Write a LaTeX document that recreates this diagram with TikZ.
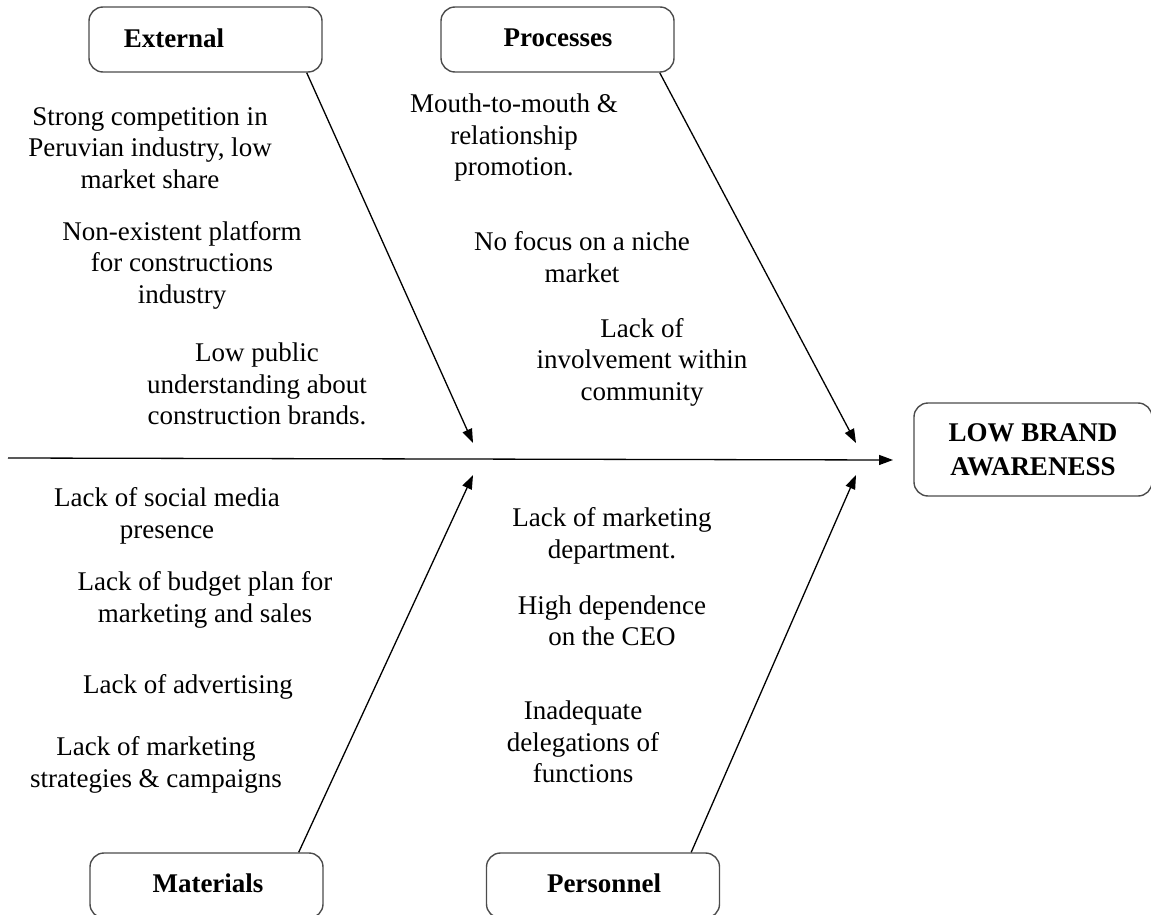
\documentclass[tikz,border=0pt]{standalone}
\usepackage{fontspec}
\setmainfont{Liberation Serif}
\usetikzlibrary{arrows.meta}
\begin{document}
\begin{tikzpicture}[x=1pt,y=-1pt,
  every node/.style={font=\fontsize{27}{31.5}\selectfont},
  cause/.style={align=center, inner sep=0pt},
  catbox/.style={draw=black!70, line width=1.4pt, rounded corners=14pt, minimum width=233pt, minimum height=65pt, inner sep=0pt},
  cattext/.style={font=\fontsize{27}{31.5}\selectfont\bfseries, inner sep=0pt},
  effbox/.style={draw=black!70, line width=1.4pt, rounded corners=14pt, minimum width=238pt, minimum height=93pt, align=center, inner sep=0pt, font=\fontsize{27}{34}\selectfont\bfseries},
  arr/.style={line width=1.3pt, -{Triangle[length=14pt,width=10pt]}}]
\useasboundingbox (0,0) rectangle (1151,915);
\clip (0,0) rectangle (1151,915);
% category boxes
\node[catbox] (ext) at (205.5,39.5) {};
\node[cattext] (extlab) at (174,38) {External};
\node[catbox] (pro) at (557.5,39.5) {};
\node[cattext] (prolab) at (558,38) {Processes};
\node[catbox] (mat) at (206.5,885.5) {};
\node[cattext] (matlab) at (208,883) {Materials};
\node[catbox] (per) at (603,885.5) {};
\node[cattext] (perlab) at (604,883) {Personnel};
% effect
\node[effbox] (lbw) at (1033,449.5) {LOW BRAND\\AWARENESS};
% causes
\node[cause] (a1) at (150,148) {Strong competition in\\Peruvian industry, low\\market share};
\node[cause] (a2) at (182,265) {Non-existent platform\\for constructions\\industry};
\node[cause] (a3) at (257,384) {Low public\\understanding about\\construction brands.};
\node[cause] (b1) at (514,138) {Mouth-to-mouth \&\\relationship\\promotion.};
\node[cause] (b2) at (582,257) {No focus on a niche\\market};
\node[cause] (b3) at (642,362) {Lack of\\involvement within\\community};
\node[cause] (c1) at (167,516) {Lack of social media\\presence};
\node[cause] (c2) at (205,600) {Lack of budget plan for\\marketing and sales};
\node[cause] (c3) at (188,687) {Lack of advertising};
\node[cause] (c4) at (156,765) {Lack of marketing\\strategies \& campaigns};
\node[cause] (d1) at (612,536) {Lack of marketing\\department.};
\node[cause] (d2) at (612,621) {High dependence\\on the CEO};
\node[cause] (d3) at (583,742) {Inadequate\\delegations of\\functions};
% spine and branches
\coordinate (spinestart) at (8,458);
\coordinate (spineend) at (893,460);
\coordinate (tipA) at (473,443);
\coordinate (tipB) at (856,443);
\coordinate (tipC) at (473,475);
\coordinate (tipD) at (856,475);
\draw[arr] (spinestart) -- (spineend);
\draw[arr] ([xshift=-16pt]ext.south east) -- (tipA);
\draw[arr] ([xshift=-15pt]pro.south east) -- (tipB);
\draw[arr] ([xshift=-25pt]mat.north east) -- (tipC);
\draw[arr] ([xshift=-29pt]per.north east) -- (tipD);
\end{tikzpicture}
\end{document}
